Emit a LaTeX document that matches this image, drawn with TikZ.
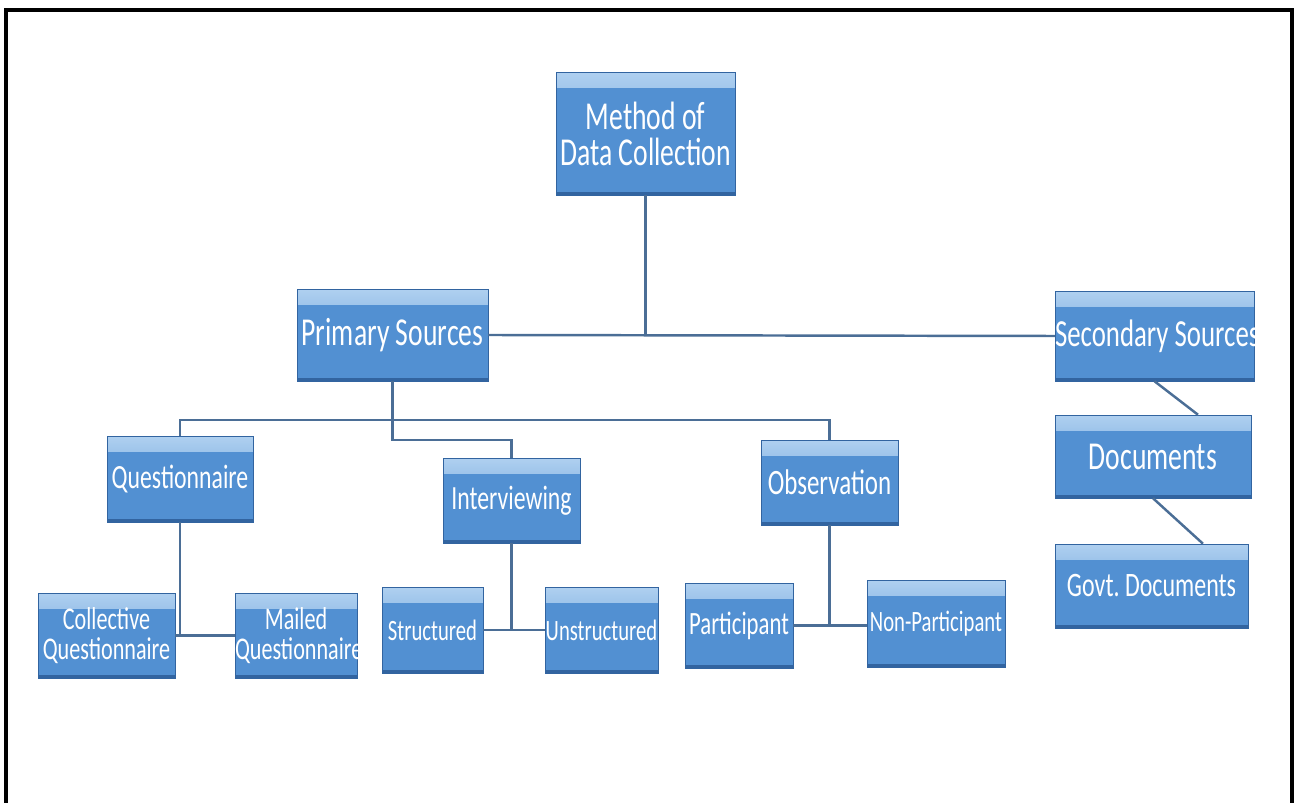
\documentclass[tikz,border=0pt]{standalone}
\usepackage{fontspec}
\newfontfamily\boxfont[FakeStretch=0.7]{Carlito}
\newcommand{\boxsize}[2]{\boxfont\fontsize{#1}{#2}\selectfont}
\newcommand{\gap}{\nobreak\hspace{0.16em}\nobreak}

\definecolor{boxmain}{RGB}{82,144,210}
\definecolor{boxtop}{RGB}{175,208,240}
\definecolor{boxedge}{RGB}{50,100,160}
\definecolor{linkcol}{RGB}{75,110,150}

\tikzset{
    blockbox/.style={draw=boxedge, line width=0.3pt, fill=boxmain, text=white,
        align=center, inner sep=0pt,
        font=\boxsize{22.5}{20.5},
        path picture={
            \shade[top color=boxtop, bottom color=boxmain]
                (path picture bounding box.north west) rectangle ([yshift=-0.3cm]path picture bounding box.north east);
            \fill[boxedge] (path picture bounding box.south west) rectangle ([yshift=0.06cm]path picture bounding box.south east);
        }},
    midfont/.style={font=\boxsize{19.3}{18}},
    leaffont/.style={font=\boxsize{16.8}{16.5}},
    link/.style={draw=linkcol, line width=1.4pt},
}

\begin{document}
\begin{tikzpicture}[x=0.02cm,y=-0.02cm]

    \useasboundingbox (0,0) rectangle (1296,803);

    %frame
    \draw[line width=2pt] (6,803) -- (6,10) -- (1292,10) -- (1292,803);

    %top
    \node[blockbox, text width=3.58cm, minimum height=2.46cm] (meth) at (645.5,133.5) {Method\gap of\\Data\gap Collection};

    %sources
    \node[blockbox, text width=3.82cm, minimum height=1.84cm] (prim) at (392.5,335) {Primary\gap Sources};
    \node[blockbox, font=\boxsize{21.8}{20}, text width=3.98cm, minimum height=1.80cm] (sec) at (1154.5,336) {Secondary\gap Sources};
    \node[blockbox, text width=3.92cm, minimum height=1.66cm] (docs) at (1153,456.5) {Documents};
    \node[blockbox, font=\boxsize{19.5}{18}, text width=3.86cm, minimum height=1.68cm] (govt) at (1151.5,586) {Govt.\gap Documents};

    %methods
    \node[blockbox, midfont, text width=2.92cm, minimum height=1.72cm] (quest) at (180,479) {Questionnaire};
    \node[blockbox, midfont, text width=2.74cm, minimum height=1.70cm] (interv) at (511.5,500.5) {Interviewing};
    \node[blockbox, font=\boxsize{20.3}{18}, text width=2.74cm, minimum height=1.70cm] (obs) at (829.5,482.5) {Observation};

    %kinds
    \node[blockbox, font=\boxsize{18}{17}, text width=2.74cm, minimum height=1.70cm] (coll) at (106.5,635.5) {Collective\\Questionnaire};
    \node[blockbox, font=\boxsize{18}{17}, text width=2.44cm, minimum height=1.70cm] (mail) at (296,635.5) {Mailed\\Questionnaire};
    \node[blockbox, leaffont, text width=2.02cm, minimum height=1.72cm] (struct) at (432.5,630) {Structured};
    \node[blockbox, leaffont, text width=2.26cm, minimum height=1.72cm] (unstr) at (601.5,630) {Unstructured};
    \node[blockbox, font=\boxsize{18.5}{17}, text width=2.16cm, minimum height=1.70cm] (part) at (739,625.5) {Participant};
    \node[blockbox, leaffont, text width=2.76cm, minimum height=1.74cm] (nonp) at (936,623.5) {Non-Participant};

    %links
    \draw[link] (meth.south) -- (meth.south |- prim.east);
    \draw[link] (prim.east) -- (sec.west);
    \draw[link] (quest.north) |- (obs.north |- 0,420) -- (obs.north);
    \draw[link] (prim.south) -- (prim.south |- 0,440) -| (interv.north);
    \draw[link] (quest.south) -- (quest.south |- coll.east);
    \draw[link] (coll.east) -- (mail.west);
    \draw[link] (interv.south) -- (interv.south |- struct.east);
    \draw[link] (struct.east) -- (unstr.west);
    \draw[link] (obs.south) -- (obs.south |- part.east);
    \draw[link] (part.east) -- (part.east -| nonp.west);
    \draw[link] (sec.south) -- ([xshift=0.9cm]docs.north);
    \draw[link] (docs.south) -- ([xshift=1.03cm]govt.north);

\end{tikzpicture}
\end{document}
